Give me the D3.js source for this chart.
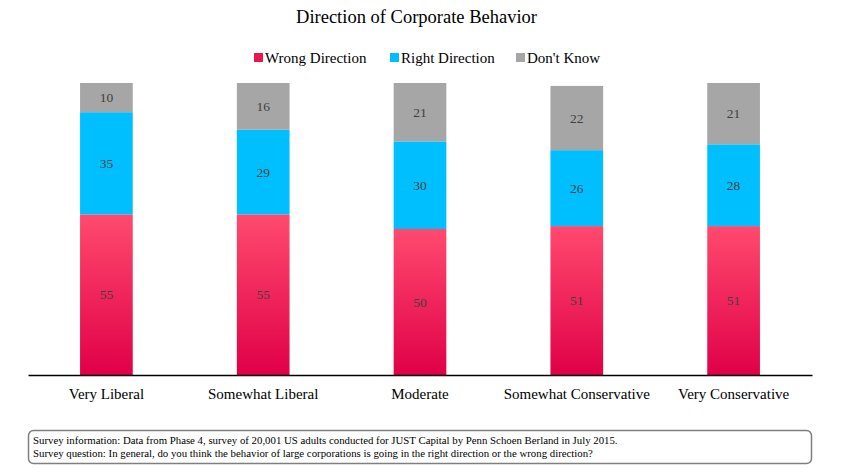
<!DOCTYPE html>
<html>
<head>
<meta charset="utf-8">
<script src="https://cdn.jsdelivr.net/npm/d3@7"></script>
<style>
  body { margin: 0; background: #fff; }
  text { font-family: "Liberation Serif", "Times New Roman", serif; }
</style>
</head>
<body>
<div id="chart"></div>
<script>
// chart data
var categories = ["Very Liberal", "Somewhat Liberal", "Moderate", "Somewhat Conservative", "Very Conservative"];
var seriesNames = ["Wrong Direction", "Right Direction", "Don't Know"];
var wrongDirection = [55, 55, 50, 51, 51];
var rightDirection = [35, 29, 30, 26, 28];
var dontKnow = [10, 16, 21, 22, 21];
var footnoteLines = [
  "Survey information: Data from Phase 4, survey of 20,001 US adults conducted for JUST Capital by Penn Schoen Berland in July 2015.",
  "Survey question: In general, do you think the behavior of large corporations is going in the right direction or the wrong direction?"
];

var svgWidth = 853;
var svgHeight = 475;
var margin = { top: 83, right: 41, bottom: 100, left: 28 };
var width = svgWidth - margin.left - margin.right;
var height = svgHeight - margin.top - margin.bottom;

var colors = ["url(#redGrad)", "#00bfff", "#a6a6a6"];
var legendColors = ["#e8174f", "#00bfff", "#a6a6a6"];

var svg = d3.select("#chart")
  .append("svg")
  .attr("width", svgWidth)
  .attr("height", svgHeight);

// gradient for the red bars
var grad = svg.append("defs").append("linearGradient")
  .attr("id", "redGrad")
  .attr("x1", 0).attr("y1", 0).attr("x2", 0).attr("y2", 1);
grad.append("stop").attr("offset", "0%").attr("stop-color", "#ff4a6e");
grad.append("stop").attr("offset", "100%").attr("stop-color", "#e00048");

// build the table for the stack
var table = categories.map(function(c, i) {
  return { category: c, "Wrong Direction": wrongDirection[i], "Right Direction": rightDirection[i], "Don't Know": dontKnow[i] };
});
var stacked = d3.stack().keys(seriesNames)(table);

var chartGroup = svg.append("g")
  .attr("transform", `translate(${margin.left}, ${margin.top})`);

var xScale = d3.scaleBand()
  .domain(categories)
  .range([0, width])
  .paddingInner(0.664)
  .paddingOuter(0.332);

var yScale = d3.scaleLinear()
  .domain([0, 100])
  .range([height, 0])
  .clamp(true);

// bars
var layers = chartGroup.selectAll(".layer")
  .data(stacked)
  .enter().append("g")
  .attr("class", "layer")
  .attr("fill", (d, i) => colors[i]);

layers.selectAll("rect")
  .data(d => d)
  .enter().append("rect")
  .attr("x", d => xScale(d.data.category))
  .attr("y", d => yScale(d[1]))
  .attr("width", xScale.bandwidth())
  .attr("height", d => yScale(d[0]) - yScale(d[1]));

// value labels
layers.selectAll("text")
  .data(d => d)
  .enter().append("text")
  .attr("x", d => xScale(d.data.category) + xScale.bandwidth() / 2)
  .attr("y", d => (yScale(d[0]) + yScale(d[1])) / 2)
  .attr("dy", "0.35em")
  .attr("text-anchor", "middle")
  .attr("font-size", 13.5)
  .attr("fill", "#404040")
  .text(d => d[1] - d[0]);

// x axis
var xAxis = d3.axisBottom(xScale).tickSize(0).tickPadding(13);
var axisG = chartGroup.append("g")
  .attr("transform", `translate(0, ${height})`)
  .call(xAxis);
axisG.select(".domain").attr("stroke", "#000").attr("stroke-width", 1.3);
axisG.selectAll("text")
  .attr("font-family", "Liberation Serif, serif")
  .attr("font-size", 15)
  .attr("fill", "#000");

// title
svg.append("text")
  .attr("x", svgWidth / 2 - 10)
  .attr("y", 23)
  .attr("text-anchor", "middle")
  .attr("font-size", 18.5)
  .attr("fill", "#000")
  .text("Direction of Corporate Behavior");

// legend
var legendX = [254, 390, 516];
var legend = svg.append("g").selectAll("g")
  .data(seriesNames)
  .enter().append("g")
  .attr("transform", (d, i) => `translate(${legendX[i]}, 58)`);
legend.append("rect")
  .attr("x", 0).attr("y", -5)
  .attr("width", 9).attr("height", 9)
  .attr("fill", (d, i) => legendColors[i]);
legend.append("text")
  .attr("x", 11).attr("y", 0)
  .attr("dy", "0.35em")
  .attr("font-size", 15)
  .attr("fill", "#000")
  .text(d => d);

// footnote box
svg.append("rect")
  .attr("x", 28.5).attr("y", 430.5)
  .attr("width", 783).attr("height", 33)
  .attr("rx", 5).attr("ry", 5)
  .attr("fill", "none")
  .attr("stroke", "#7f7f7f")
  .attr("stroke-width", 1.5);

svg.append("g").selectAll("text")
  .data(footnoteLines)
  .enter().append("text")
  .attr("x", 33)
  .attr("y", (d, i) => 444 + i * 12.5)
  .attr("font-size", 10.8)
  .attr("fill", "#000")
  .text(d => d);
</script>
</body>
</html>
